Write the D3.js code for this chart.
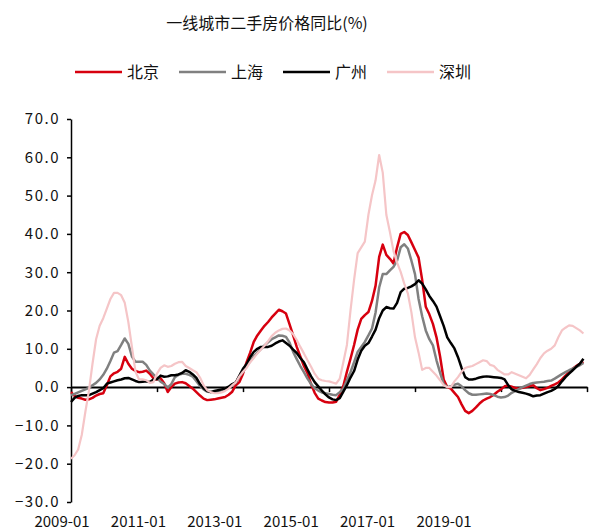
<!DOCTYPE html>
<html>
<head>
<meta charset="utf-8">
<script src="https://cdn.jsdelivr.net/npm/d3@7"></script>
<style>
  body { margin: 0; background: #fff; }
  text { font-family: "Noto Sans CJK SC", "DejaVu Sans", sans-serif; fill: #111; }
</style>
</head>
<body>
<div id="chart"></div>
<script>
var w = 590;
var h = 530;

// monthly, 2009-01 .. 2020-12
var months = [];
for (var yr = 2009; yr <= 2020; yr++) {
  for (var mo = 1; mo <= 12; mo++) months.push(yr + "-" + (mo < 10 ? "0" + mo : mo));
}

var cities = ["北京", "上海", "广州", "深圳"];
var colors = ["#d7000f", "#808080", "#000000", "#f5c5c7"];

var beijing = [
  -1.3, -2.3, -2.8, -3.0, -3.3, -3.2, -2.8, -2.2, -1.8, -1.6, 0.5, 2.8,
  3.6, 4.0, 4.8, 7.9, 6.1, 4.8, 4.2, 3.9, 4.0, 4.3, 3.5, 2.3,
  2.0, 2.3, 1.0, -1.3, 0, 0.9, 1.2, 1.3, 1.0, 0.3, -0.4, -1.3,
  -2.2, -3.0, -3.4, -3.3, -3.2, -3.0, -2.8, -2.6, -2.0, -1.2, 0.5, 1.3,
  3.5, 6.5, 9.0, 11.8, 13.5, 14.8, 16.0, 17.0, 18.2, 19.2, 20.2, 19.8,
  19.2, 16.4, 13.5, 10.5, 8.0, 5.5, 3.6, 0.8, -1.5, -3.0, -3.5, -3.9,
  -4.0, -4.0, -3.8, -2.0, 0.3, 4.0, 7.4, 11.0, 15.0, 17.8, 18.8, 19.6,
  22.5, 26.5, 34.0, 37.2, 34.5, 33.5, 32.3, 36.5, 40.0, 40.5, 39.7, 37.8,
  35.8, 33.8, 28.0, 21.0, 19.0, 16.5, 13.0, 8.0, 2.0, 0, -0.4, -1.5,
  -2.6, -4.5, -6.2, -6.8, -6.2, -5.3, -4.3, -3.5, -3.0, -2.6, -2.0, -1.2,
  -0.6, 0.2, 0.4, 0.1, -0.2, -0.4, -0.2, 0, 0.3, 0.5, -0.3, -0.8,
  -0.5, -0.2, 0.3, 0.7, 1.2, 2.0, 3.0, 3.9, 4.8, 5.5, 6.1, 6.6
];

var shanghai = [
  -2.1, -1.8, -1.4, -1.0, -0.6, -0.2, 0.5, 1.1, 2.0, 3.2, 4.8, 6.8,
  9.0, 9.4, 11.0, 12.7, 11.3, 8.0, 6.6, 6.6, 6.6, 5.8, 4.3, 3.3,
  2.4, 1.4, 0.8, -0.1, 0.8, 2.6, 3.2, 3.5, 3.5, 3.2, 2.7, 1.5,
  0.3, -0.6, -1.2, -1.3, -1.3, -1.1, -0.8, -0.5, -0.2, 0.5, 1.2, 2.8,
  4.0, 5.5, 6.7, 8.0, 9.0, 9.9, 10.9, 11.7, 12.5, 13.0, 13.5, 13.4,
  13.1, 11.6, 9.2, 7.3, 5.5, 3.9, 2.2, 0.8, -0.3, -0.9, -1.4, -1.6,
  -1.8, -2.0, -2.1, -1.3, -0.4, 1.8, 3.9, 6.5, 9.2, 10.5, 11.8, 13.5,
  15.3, 19.5, 26.0, 29.5, 29.5, 30.5, 31.4, 33.0, 36.5, 37.3, 36.2, 33.0,
  29.5, 23.0, 18.5, 14.8, 12.5, 10.9, 7.0, 3.8, 0.8, 0, 0.2, 0.6,
  0.9, 0.2, -0.8, -1.6, -2.0, -2.0, -1.9, -1.8, -1.7, -1.8, -2.1, -2.5,
  -2.7, -2.6, -2.2, -1.5, -1.0, -0.5, 0, 0.4, 0.8, 1.1, 1.2, 1.3,
  1.4, 1.6, 1.7, 2.2, 2.8, 3.4, 3.9, 4.4, 4.8, 5.3, 5.7, 6.3
];

var guangzhou = [
  -3.9, -2.8, -2.3, -2.1, -2.1, -2.1, -1.7, -1.3, -0.8, -0.3, 0.9, 1.2,
  1.5, 1.8, 2.0, 2.3, 2.4, 2.0, 1.6, 1.3, 1.4, 1.5, 1.3, 2.0,
  2.1, 3.0, 2.7, 2.8, 3.1, 3.1, 3.3, 3.7, 4.4, 4.0, 3.3, 2.4,
  0.8, -0.3, -1.0, -1.3, -1.0, -0.8, -0.6, -0.4, 0.1, 0.8, 1.2, 3.0,
  4.8, 6.0, 7.8, 9.2, 10.0, 10.5, 10.5, 10.5, 10.8, 11.4, 11.9, 12.2,
  11.5, 10.8, 9.8, 8.9, 7.6, 6.5, 4.6, 2.8, 1.3, 0.2, -0.9, -1.9,
  -2.7, -3.2, -3.4, -2.9, -1.2, 0.5, 2.5, 4.2, 7.2, 9.5, 10.8, 11.5,
  13.2, 15.0, 18.0, 20.0, 20.9, 20.6, 20.5, 22.0, 24.8, 25.7, 25.9, 26.3,
  26.9, 27.9, 27.0, 25.5, 23.8, 22.5, 21.0, 18.5, 16.0, 13.0, 11.5, 10.1,
  7.8, 5.0, 2.6, 2.0, 2.0, 2.2, 2.5, 2.7, 2.8, 2.7, 2.6, 2.5,
  2.4, 2.0, 0.5, -0.6, -1.0, -1.3, -1.5, -1.7, -2.0, -2.4, -2.2, -2.1,
  -1.7, -1.3, -1.0, -0.5, 0.3, 1.5, 2.6, 3.5, 4.4, 5.3, 6.1, 7.4
];

var shenzhen = [
  -18.7, -17.8, -16.3, -12.5, -6.5, -1.0, 6.1, 12.5, 16.0, 18.0, 20.5, 23.0,
  24.6, 24.6, 24.0, 22.0, 17.0, 10.5, 4.0, 2.0, 2.0, 1.8, 1.1, 1.3,
  3.5, 5.0, 5.7, 5.3, 5.5, 6.1, 6.5, 6.6, 5.5, 5.0, 4.4, 3.9,
  2.5, 0.5, -0.8, -1.3, -1.6, -1.6, -1.4, -1.0, -0.4, 0.5, 1.2, 2.8,
  4.0, 5.0, 6.5, 7.6, 8.8, 9.8, 10.8, 12.0, 13.3, 14.2, 14.8, 15.2,
  15.3, 14.8, 13.8, 12.3, 10.5, 8.8, 7.0, 5.3, 3.5, 2.2, 1.8, 1.6,
  1.5, 1.2, 0.9, 2.2, 6.5, 11.0, 20.0, 28.0, 35.0, 36.5, 38.0, 45.0,
  50.1, 54.0, 60.6, 56.0, 45.0, 40.5, 35.5, 32.5, 30.1, 27.0, 24.5, 19.5,
  13.0, 9.0, 4.5, 5.0, 5.0, 4.0, 3.0, 1.8, 0.5, 0, 0, 1.5,
  2.6, 4.0, 5.0, 5.3, 5.5, 6.0, 6.5, 7.0, 6.8, 5.8, 5.5, 4.5,
  3.9, 3.3, 3.3, 3.9, 3.5, 3.1, 2.7, 2.3, 3.2, 4.6, 6.0, 7.6,
  8.8, 9.5, 10.0, 10.9, 13.0, 14.8, 15.5, 16.1, 16.0, 15.4, 14.8, 14.0
];

var yTicks = [-30, -20, -10, 0, 10, 20, 30, 40, 50, 60, 70];
var xTickLabels = ["2009-01", "2011-01", "2013-01", "2015-01", "2017-01", "2019-01"];
var title = "一线城市二手房价格同比(%)";

var seriesData = [beijing, shanghai, guangzhou, shenzhen];

var svg = d3
  .select("#chart")
  .append("svg")
  .attr("width", w)
  .attr("height", h);

var x = d3.scaleLinear().domain([0, 144]).range([71, 587]);
var y = d3.scaleLinear().domain([-30, 70]).range([502, 119]);

// title
svg
  .append("text")
  .attr("x", 267)
  .attr("y", 29)
  .attr("text-anchor", "middle")
  .style("font-size", "16px")
  .text(title);

// legend
var legend = svg
  .selectAll(".legend")
  .data(cities)
  .enter()
  .append("g")
  .attr("class", "legend")
  .attr("transform", (d, i) => "translate(" + (75 + i * 104) + ",72)");
legend
  .append("line")
  .attr("x1", 0)
  .attr("x2", 47)
  .attr("stroke", (d, i) => colors[i])
  .attr("stroke-width", 2.5);
legend
  .append("text")
  .attr("x", 52)
  .attr("dy", "0.36em")
  .style("font-size", "16px")
  .text((d) => d);

// y axis
var yAxis = svg
  .append("g")
  .attr("transform", "translate(" + x(0) + ",0)")
  .call(
    d3
      .axisLeft(y)
      .tickValues(yTicks)
      .tickSize(4)
      .tickSizeOuter(0)
      .tickFormat(d3.format(".1f"))
  );
yAxis.select(".domain").attr("stroke", "#000").attr("stroke-width", 1.5);
yAxis.selectAll(".tick line").attr("stroke", "#000").attr("stroke-width", 1.5);
yAxis
  .selectAll(".tick text")
  .attr("x", -11)
  .style("font-size", "15px")
  .style("letter-spacing", "1.5px")
  .attr("fill", "#111");

// x axis along zero
var xAxis = svg
  .append("g")
  .attr("transform", "translate(0," + y(0) + ")")
  .call(
    d3
      .axisBottom(x)
      .tickValues(d3.range(0, 145, 24))
      .tickSize(5)
      .tickSizeOuter(0)
      .tickFormat("")
  );
xAxis.select(".domain").attr("stroke", "#000").attr("stroke-width", 2);
xAxis.selectAll(".tick line").attr("stroke", "#000").attr("stroke-width", 1.5);

// x labels sit under the plot, spaced on their own
var labelX = d3
  .scalePoint()
  .domain(xTickLabels)
  .range([x(0) - 9, x(0) + 373]);
svg
  .append("g")
  .selectAll("text")
  .data(xTickLabels)
  .enter()
  .append("text")
  .attr("x", (d) => labelX(d))
  .attr("y", 527)
  .attr("text-anchor", "middle")
  .style("font-size", "15px")
  .text((d) => d);

// lines
var line = d3
  .line()
  .x((d, i) => x(i))
  .y((d) => y(d));

svg
  .append("g")
  .selectAll("path")
  .data(seriesData)
  .enter()
  .append("path")
  .attr("fill", "none")
  .attr("stroke", (d, i) => colors[i])
  .attr("stroke-width", (d, i) => (i == 3 ? 2.2 : 2.5))
  .attr("stroke-linejoin", "round")
  .attr("d", line);
</script>
</body>
</html>
